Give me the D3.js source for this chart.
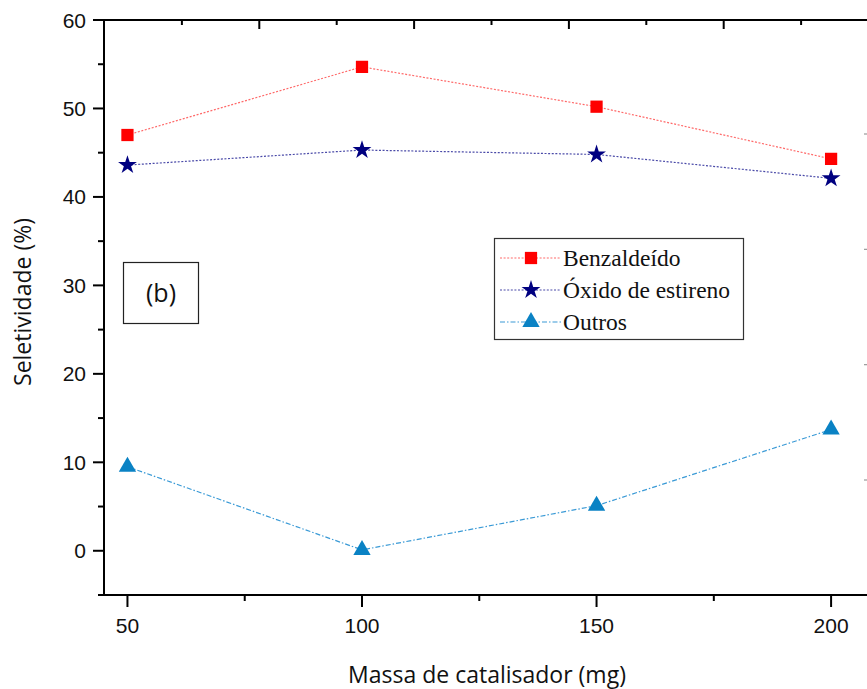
<!DOCTYPE html>
<html>
<head>
<meta charset="utf-8">
<script src="https://cdn.jsdelivr.net/npm/d3@7"></script>
<style>
    body { margin: 0; background: #ffffff; }
    svg { display: block; overflow: hidden; }
    .tick-label { font-family: "Liberation Sans", Arial, sans-serif; font-size: 21px; fill: #111; }
    .title { font-family: "Open Sans", "Noto Sans", sans-serif; font-size: 23px; fill: #111; }
    .legend-text { font-family: "Liberation Serif", "Times New Roman", serif; font-size: 23.5px; fill: #111; }
</style>
</head>
<body>
<div id="chart"></div>
<script>
// data
const masses = [50, 100, 150, 200];
const benzaldeido = [47.0, 54.7, 50.2, 44.3];
const oxido = [43.6, 45.3, 44.8, 42.1];
const outros = [9.5, 0.1, 5.1, 13.7];
const seriesNames = ["Benzaldeído", "Óxido de estireno", "Outros"];
const yTicks = [0, 10, 20, 30, 40, 50, 60];
const yMinor = [-5, 5, 15, 25, 35, 45, 55];
const xTicks = [50, 100, 150, 200];
const xMinor = [75, 125, 175];

window.onload = function() {
    let w = 867, h = 689;

    let svg = d3.select("#chart")
                .append("svg")
                .attr("width", w)
                .attr("height", h);

    // scales, plot runs off the right edge like the original
    let x = d3.scaleLinear().domain([45, 210]).range([104, 878]);
    let y = d3.scaleLinear().domain([-5, 60]).range([595, 20]);
    // top frame has its own tick spacing
    let xTop = d3.scaleLinear().domain([0, 10]).range([104.5, 878.5]);
    // faint ticks at the cut right edge
    let yRight = d3.scaleLinear().domain([0, 3]).range([134, 480]);

    let series = [
        {name: seriesNames[0], values: benzaldeido, color: "#ff0000",
         line: "#ff6a6a", dash: "2,1.6", symbol: d3.symbolSquare, size: 150},
        {name: seriesNames[1], values: oxido, color: "#000080",
         line: "#4a4aa8", dash: "2,1.6", symbol: d3.symbolStar, size: 110},
        {name: seriesNames[2], values: outros, color: "#0a82c4",
         line: "#3a9ad6", dash: "5,2,1.5,2", symbol: d3.symbolTriangle, size: 130}
    ];

    // axes frame
    let axes = svg.append("g").attr("stroke", "#000").attr("stroke-width", 2);
    axes.append("line").attr("x1", x(45)).attr("x2", x(45))
        .attr("y1", y(60)).attr("y2", y(-5));
    axes.append("line").attr("x1", x(45)).attr("x2", w + 5)
        .attr("y1", y(-5)).attr("y2", y(-5));
    axes.append("line").attr("x1", x(45)).attr("x2", w + 5)
        .attr("y1", y(60)).attr("y2", y(60));

    // left ticks
    axes.selectAll(".ymaj").data(yTicks).enter().append("line")
        .attr("x1", x(45) - 11).attr("x2", x(45))
        .attr("y1", d => y(d)).attr("y2", d => y(d));
    axes.selectAll(".ymin").data(yMinor).enter().append("line")
        .attr("x1", x(45) - 6).attr("x2", x(45))
        .attr("y1", d => y(d)).attr("y2", d => y(d));

    // bottom ticks
    axes.selectAll(".xmaj").data(xTicks).enter().append("line")
        .attr("x1", d => x(d)).attr("x2", d => x(d))
        .attr("y1", y(-5)).attr("y2", y(-5) + 12);
    axes.selectAll(".xmin").data(xMinor).enter().append("line")
        .attr("x1", d => x(d)).attr("x2", d => x(d))
        .attr("y1", y(-5)).attr("y2", y(-5) + 6);

    // top ticks pointing inward
    axes.selectAll(".tmaj").data(d3.range(1, 11)).enter().append("line")
        .attr("x1", d => xTop(d)).attr("x2", d => xTop(d))
        .attr("y1", y(60)).attr("y2", d => y(60) + (d % 2 == 0 ? 9 : 5));

    // faint marks on the right edge
    svg.selectAll(".rt").data(d3.range(0, 4)).enter().append("line")
       .attr("x1", 864).attr("x2", 867)
       .attr("y1", d => yRight(d)).attr("y2", d => yRight(d))
       .attr("stroke", "#999").attr("stroke-width", 1.2);

    // tick labels
    svg.selectAll(".ylab").data(yTicks).enter().append("text")
       .attr("class", "tick-label")
       .attr("x", x(45) - 18).attr("y", d => y(d) + 7.5)
       .attr("text-anchor", "end")
       .text(d => d);
    svg.selectAll(".xlab").data(xTicks).enter().append("text")
       .attr("class", "tick-label")
       .attr("x", d => x(d)).attr("y", 633)
       .attr("text-anchor", "middle")
       .text(d => d);

    // axis titles
    svg.append("text").attr("class", "title")
       .attr("x", 487).attr("y", 683)
       .attr("text-anchor", "middle")
       .text("Massa de catalisador (mg)");
    svg.append("text").attr("class", "title")
       .attr("transform", "translate(31,302) rotate(-90)")
       .attr("text-anchor", "middle")
       .text("Seletividade (%)");

    // lines and markers
    let line = d3.line().x(d => x(d[0])).y(d => y(d[1]));
    series.forEach(function(s) {
        let pts = masses.map((m, i) => [m, s.values[i]]);
        svg.append("path")
           .attr("d", line(pts))
           .attr("fill", "none")
           .attr("stroke", s.line)
           .attr("stroke-width", 1.2)
           .attr("stroke-dasharray", s.dash);
        svg.selectAll(null).data(pts).enter().append("path")
           .attr("d", d3.symbol().type(s.symbol).size(s.size))
           .attr("transform", d => "translate(" + x(d[0]) + "," + y(d[1]) + ")")
           .attr("fill", s.color);
    });

    // (b) label box
    svg.append("rect")
       .attr("x", 123.5).attr("y", 262.5).attr("width", 75).attr("height", 61)
       .attr("fill", "none").attr("stroke", "#222").attr("stroke-width", 1.2);
    svg.append("text").attr("class", "title")
       .attr("x", 161).attr("y", 302)
       .attr("text-anchor", "middle")
       .style("font-size", "25px")
       .text("(b)");

    // legend
    let legend = svg.append("g");
    legend.append("rect")
          .attr("x", 494.5).attr("y", 238.5).attr("width", 249).attr("height", 101)
          .attr("fill", "#fff").attr("stroke", "#333").attr("stroke-width", 1.2);
    let ly = d3.scalePoint().domain(seriesNames).range([258, 322]);
    series.forEach(function(s) {
        let yy = ly(s.name);
        legend.append("line")
              .attr("x1", 500).attr("x2", 561).attr("y1", yy).attr("y2", yy)
              .attr("stroke", s.line).attr("stroke-width", 1.2)
              .attr("stroke-dasharray", s.dash);
        legend.append("path")
              .attr("d", d3.symbol().type(s.symbol).size(s.size))
              .attr("transform", "translate(531," + yy + ")")
              .attr("fill", s.color);
        legend.append("text").attr("class", "legend-text")
              .attr("x", 563).attr("y", yy + 8)
              .text(s.name);
    });
};
</script>
</body>
</html>
